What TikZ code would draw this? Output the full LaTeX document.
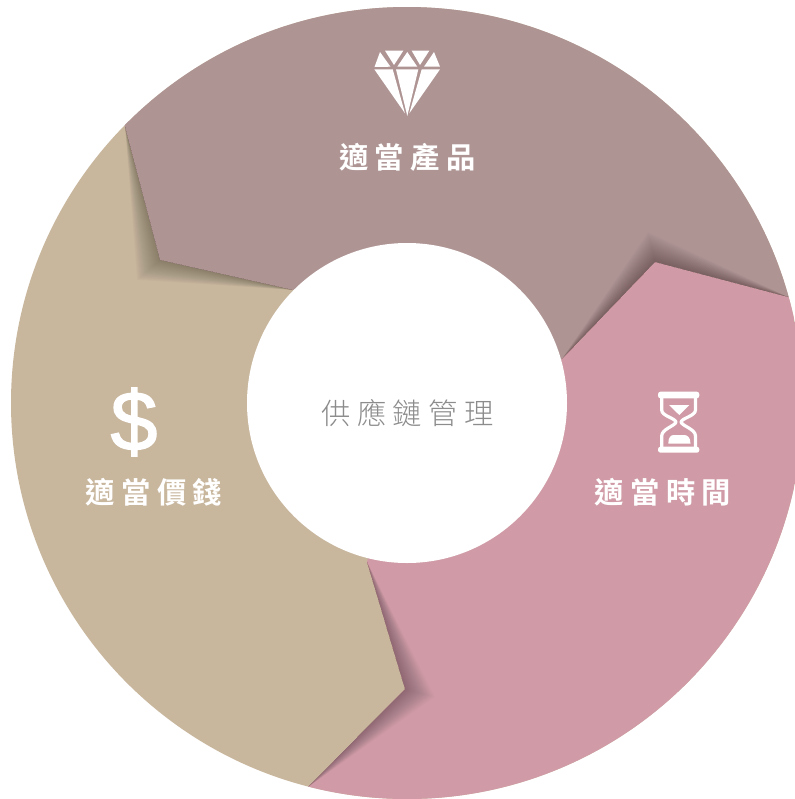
\documentclass[tikz,border=0pt]{standalone}
\usepackage{fontspec}
\usetikzlibrary{calc}
\newfontfamily\labelfont[LetterSpace=22]{Noto Sans CJK TC Bold}
\newfontfamily\centerfont[LetterSpace=22]{Noto Sans CJK TC Light}
\newfontfamily\iconfont[AutoFakeBold=1.6]{Liberation Sans}
\definecolor{mauve}{HTML}{AF9494}
\definecolor{tan}{HTML}{C8B69D}
\definecolor{rosy}{HTML}{D09BA6}
\definecolor{centertext}{HTML}{8C8C8C}
\tikzset{
  seglabel/.style={text=white,inner sep=0pt,font=\fontsize{25pt}{25pt}\labelfont},
  centerlabel/.style={text=centertext,inner sep=0pt,font=\fontsize{25pt}{25pt}\centerfont},
  shadowlayer/.style={fill=black,fill opacity=0.013,draw=none},
  iconfill/.style={fill=white,draw=none},
  iconline/.style={draw=white,line width=3.2*0.03cm,line join=round,fill=none}
}
\newcommand{\foldshadow}[4]{%
  \foreach \t in {0.04,0.08,...,1.01}{
    \fill[shadowlayer] #1 -- ($#2!\t!#4$) -- #3 -- #2 -- cycle;
  }%
}
\begin{document}
\begin{tikzpicture}[x=0.03cm,y=-0.03cm]
\useasboundingbox (0,0) rectangle (795,799);
\fill[white] (0,0) rectangle (795,799);
\begin{scope}
  \clip (0,0) rectangle (795,799);
  \fill[tan] (407,403) circle[radius=396];
  \begin{scope}
    \clip (407,403) circle[radius=396];
    \fill[mauve] (407,403) -- (293,290) -- (160,260) -- (125,127) -- (110,70) -- (100,-10) -- (900,-10) -- (900,326) -- (788,297) -- (655,262) -- (562,359) -- cycle;
    \fill[rosy] (407,403) -- (562,359) -- (655,262) -- (788,297) -- (900,326) -- (900,900) -- (200,900) -- (308,787) -- (405,689) -- (367,562) -- cycle;
  \end{scope}
  \foldshadow{(125,127)}{(160,260)}{(293,290)}{(137,280)}
  \foldshadow{(562,359)}{(655,262)}{(788,297)}{(648,232)}
  \foldshadow{(367,562)}{(405,689)}{(308,787)}{(435,697)}
\end{scope}
\node[circle,fill=white,minimum size=320*0.03cm,inner sep=0pt] (hub) at (407,403) {};
\node[centerlabel] (hubtext) at (407.5,413) {供應鏈管理};
\node[seglabel] (product) at (407.5,157) {適當產品};
\node[seglabel] (time) at (663,492) {適當時間};
\node[seglabel] (price) at (154,492) {適當價錢};
% diamond icon
\fill[iconfill] (380,52) -- (390.5,66.7) -- (374.5,67) -- cycle;
\fill[iconfill] (385,50.7) -- (403.3,50.7) -- (394,65) -- cycle;
\fill[iconfill] (407.3,52) -- (417.3,66.7) -- (397.3,66.7) -- cycle;
\fill[iconfill] (411.7,50.7) -- (429.3,50.7) -- (420,65) -- cycle;
\fill[iconfill] (434,52) -- (440,66.7) -- (424,66.7) -- cycle;
\fill[iconfill] (374.3,69.3) -- (392.7,69.3) -- (405,113.3) -- cycle;
\fill[iconfill] (396,69.3) -- (418.3,69.3) -- (407.3,116) -- cycle;
\fill[iconfill] (421.7,69.3) -- (440,69.3) -- (409.3,113.3) -- cycle;
% hourglass icon
\fill[iconfill,rounded corners=2.5*0.03cm] (658,391.7) rectangle (699.3,398.3);
\fill[iconfill,rounded corners=2.5*0.03cm] (658,446.7) rectangle (699.3,452.7);
\draw[iconline] (661.7,398) -- (661.7,410) .. controls (661.7,416) and (675,418) .. (676,422) .. controls (675,426) and (661.7,429) .. (661.7,436) -- (661.7,447);
\draw[iconline] (695.5,398) -- (695.5,410) .. controls (695.5,416) and (682,418) .. (681,422) .. controls (682,426) and (695.5,429) .. (695.5,436) -- (695.5,447);
\fill[iconfill] (669,405) -- (689.3,405) -- (679.3,415) -- cycle;
\fill[iconfill] (668.3,443.5) .. controls (668.3,437) and (671,435) .. (674,435) -- (684,435) .. controls (687,435) and (690.5,437) .. (690.5,443.5) -- cycle;
% dollar icon
\node[inner sep=0pt,text=white,font=\fontsize{72pt}{72pt}\iconfont\bfseries] (dollar) at (134,422) {\$};
\end{tikzpicture}
\end{document}
